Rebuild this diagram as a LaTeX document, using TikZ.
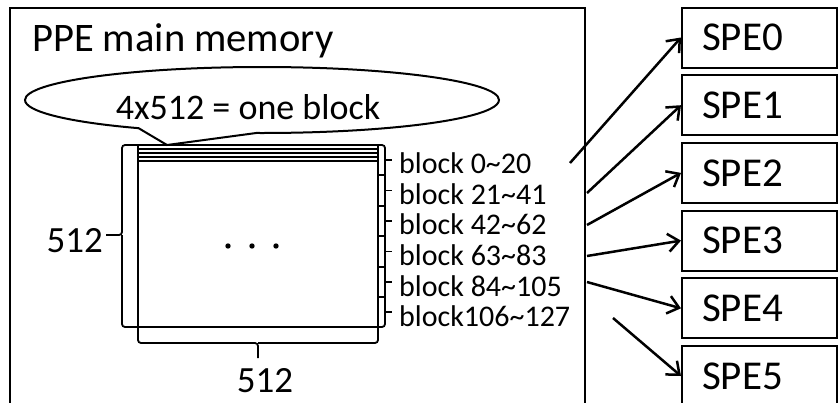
\documentclass[tikz,border=0pt]{standalone}
\usepackage{fontspec}
\setmainfont{Carlito}
\usetikzlibrary{arrows.meta,shapes.callouts}

\begin{document}
\begin{tikzpicture}[x=1pt, y=-1pt,
		spe_style/.style={rectangle,draw=black,line width=2pt,minimum height=60pt,text width=115pt,inner xsep=20pt,align=left,font=\fontsize{41}{41}\selectfont},
		block_style/.style={anchor=base west,inner sep=0pt,font=\fontsize{30}{30}\selectfont},
		num_style/.style={inner sep=0pt,font=\fontsize{37}{37}\selectfont},
		mat_style/.style={draw=black,line width=1.8pt},
		arrow_style/.style={draw=black,line width=2.5pt,-{Straight Barb[length=11pt,width=18pt]}}]

		\useasboundingbox (0,0) rectangle (838,402);

		% PPE side, box runs past the bottom edge
		\draw[line width=2pt] (10,420) |- (585,8) -- (585,420);
		\node[anchor=base west,inner sep=0pt,font=\fontsize{40.5}{40.5}\selectfont] (ppe) at (32,51) {PPE main memory};

		% the SPEs
		\node[spe_style] (s0) at (759.5,37.5)  {SPE0};
		\node[spe_style] (s1) at (759.5,105.2) {SPE1};
		\node[spe_style] (s2) at (759.5,172.9) {SPE2};
		\node[spe_style] (s3) at (759.5,240.6) {SPE3};
		\node[spe_style] (s4) at (759.5,308.3) {SPE4};
		\node[spe_style] (s5) at (759.5,376)   {SPE5};

		% 512x512 matrix, top 4 rows = one block
		\draw[mat_style] (138,145) rectangle (378,327);
		\foreach \y in {149,153,157,161}
			\draw[mat_style,line width=1.3pt] (138,\y) -- (378,\y);
		\foreach \x in {228,252,276}
			\fill (\x,246) circle (2.7);

		% braces
		\draw[mat_style,rounded corners=3pt] (138,145) -| (122,235) -- (106,235);
		\draw[mat_style,rounded corners=3pt] (138,327) -| (122,235);
		\draw[mat_style,rounded corners=3pt] (138,327) |- (258,343) -- (258,358);
		\draw[mat_style,rounded corners=3pt] (378,327) |- (258,343);
		\draw[mat_style,rounded corners=3pt] (378,145) -| (385,327) -- (378,327);
		\foreach \y in {175,206,236,267,297}
			\draw[mat_style] (378,\y) -- (385,\y);
		\foreach \y in {160,190.5,221,251.5,282,312}
			\draw[mat_style] (385,\y) -- (392,\y);

		\node[num_style,anchor=base east] (rows) at (103,252) {512};
		\node[num_style,anchor=base] (cols) at (265,392) {512};

		% callout for one block
		\node[ellipse callout,draw=black,line width=2pt,minimum width=474pt,minimum height=66pt,
			callout absolute pointer={(167,145)},callout pointer arc=30] (note) at (262,100) {};
		\node[anchor=base,inner sep=0pt,font=\fontsize{36}{36}\selectfont] (one) at (248,119) {4x512 = one block};

		% block ranges
		\node[block_style] (b0) at (399,173) {block 0\textasciitilde 20};
		\node[block_style] (b1) at (399,204) {block 21\textasciitilde 41};
		\node[block_style] (b2) at (399,234) {block 42\textasciitilde 62};
		\node[block_style] (b3) at (399,265) {block 63\textasciitilde 83};
		\node[block_style] (b4) at (399,296) {block 84\textasciitilde 105};
		\node[block_style] (b5) at (399,326) {block106\textasciitilde 127};

		\coordinate (a0) at (570,163);
		\coordinate (a1) at (587,193);
		\coordinate (a2) at (587,225);
		\coordinate (a3) at (587,256);
		\coordinate (a4) at (587,282);
		\coordinate (a5) at (613,318);

		\draw[arrow_style] (a0) -- (s0.west);
		\draw[arrow_style] (a1) -- (s1.west);
		\draw[arrow_style] (a2) -- (s2.west);
		\draw[arrow_style] (a3) -- (s3.west);
		\draw[arrow_style] (a4) -- (s4.west);
		\draw[arrow_style] (a5) -- (s5.west);

\end{tikzpicture}
\end{document}
